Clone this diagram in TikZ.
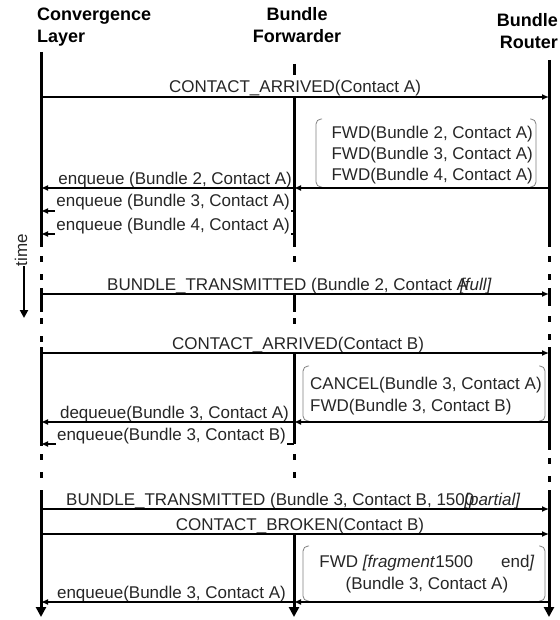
\documentclass[tikz,border=0pt]{standalone}
\usepackage{fontspec}
\setmainfont{Liberation Sans}
\usetikzlibrary{arrows.meta}

\begin{document}
\begin{tikzpicture}[x=1pt, y=-1pt,
    every node/.style={font=\fontsize{17}{21}\selectfont, text=black!85, inner sep=0pt},
    hdr/.style={font=\fontsize{18}{21}\selectfont\bfseries, text=black},
    life/.style={line width=3pt},
    lifedash/.style={line width=3pt, dash pattern=on 6pt off 12pt},
    lifeend/.style={line width=3pt, -{Triangle[length=10pt,width=10pt]}},
    msg/.style={line width=1.3pt, -{Latex[length=7pt,width=6pt]}},
    brk/.style={black!50, line width=0.8pt, rounded corners=5pt},
    cover/.style={fill=white, inner sep=1pt}]
    \useasboundingbox (0,0) rectangle (559,620);

    % ---------------- LIFELINES ----------------
    \coordinate (CL) at (41,0);
    \coordinate (BF) at (294,0);
    \coordinate (BR) at (549,0);

    \node[hdr, anchor=base west] (clA) at (37,21) {Convergence};
    \node[hdr, anchor=base west] (clB) at (37,43) {Layer};
    \node[hdr, anchor=base] (bfA) at (297,21) {Bundle};
    \node[hdr, anchor=base] (bfB) at (297,43) {Forwarder};
    \node[hdr, anchor=base east] (brA) at (558,27) {Bundle};
    \node[hdr, anchor=base east] (brB) at (558,49) {Router};

    \draw[life] (CL |- 0,52) -- (CL |- 0,247);
    \draw[lifedash] (CL |- 0,256) -- (CL |- 0,282);
    \draw[life] (CL |- 0,288) -- (CL |- 0,312);
    \draw[lifedash] (CL |- 0,318) -- (CL |- 0,342);
    \draw[life] (CL |- 0,347) -- (CL |- 0,446);
    \draw[lifedash] (CL |- 0,454) -- (CL |- 0,485);
    \draw[lifeend] (CL |- 0,490) -- (CL |- 0,617);

    \draw[life] (BF |- 0,64) -- (BF |- 0,75);
    \draw[life] (BF |- 0,97) -- (BF |- 0,247);
    \draw[lifedash] (BF |- 0,256) -- (BF |- 0,268);
    \draw[life] (BF |- 0,294) -- (BF |- 0,312);
    \draw[lifedash] (BF |- 0,318) -- (BF |- 0,330);
    \draw[life] (BF |- 0,353) -- (BF |- 0,444);
    \draw[lifedash] (BF |- 0,454) -- (BF |- 0,485);
    \draw[lifeend] (BF |- 0,534) -- (BF |- 0,617);

    \draw[life] (BR |- 0,60) -- (BR |- 0,247);
    \draw[lifedash] (BR |- 0,256) -- (BR |- 0,282);
    \draw[life] (BR |- 0,288) -- (BR |- 0,306);
    \draw[lifedash] (BR |- 0,316) -- (BR |- 0,342);
    \draw[life] (BR |- 0,347) -- (BR |- 0,450);
    \draw[lifedash] (BR |- 0,458) -- (BR |- 0,485);
    \draw[lifeend] (BR |- 0,490) -- (BR |- 0,617);

    % time axis
    \node[rotate=90, anchor=base] (tm) at (27,250) {time};
    \coordinate (tmEnd) at (24,318);
    \draw[line width=2.4pt, -{Triangle[length=8pt,width=8pt]}] (tm.west -| tmEnd) -- (tmEnd);

    % ---------------- CONTACT A ----------------
    \node[anchor=base] (caA) at (295,93) {CONTACT\_ARRIVED(Contact A)};
    \draw[msg] (CL |- 0,97) -- (BR |- 0,97);

    \node[anchor=base east] (fwd2) at (533,139) {FWD(Bundle 2, Contact A)};
    \node[anchor=base east] (fwd3) at (533,160) {FWD(Bundle 3, Contact A)};
    \node[anchor=base east] (fwd4) at (533,181) {FWD(Bundle 4, Contact A)};
    \draw[brk] (322,119) -| (316,187) -- (322,187);
    \draw[brk] (530,119) -| (536,187) -- (530,187);
    \draw[msg] (BR |- 0,188) -- (BF |- 0,188);

    \node[anchor=base east] (enq2) at (292,185) {enqueue (Bundle 2, Contact A)};
    \draw[msg] (BF |- 0,188) -- (CL |- 0,188);
    \draw[msg] (BF |- 0,211) -- (CL |- 0,211);
    \node[cover, anchor=base east] (enq3) at (291,207) {enqueue (Bundle 3, Contact A)};
    \draw[msg] (BF |- 0,234) -- (CL |- 0,234);
    \node[cover, anchor=base east] (enq4) at (291,230) {enqueue (Bundle 4, Contact A)};

    \node[anchor=base west] (bt2) at (107,290) {BUNDLE\_TRANSMITTED (Bundle 2, Contact A\hspace{-8pt}\textit{[full]}};
    \draw[msg] (CL |- 0,294) -- (BR |- 0,294);

    % ---------------- CONTACT B ----------------
    \node[anchor=base] (caB) at (298,349) {CONTACT\_ARRIVED(Contact B)};
    \draw[msg] (CL |- 0,353) -- (BR |- 0,353);

    \node[anchor=base west] (cnl) at (310,389) {CANCEL(Bundle 3, Contact A)};
    \node[anchor=base west] (fwdB) at (310,411) {FWD(Bundle 3, Contact B)};
    \draw[brk] (309,366) -| (303,421) -- (309,421);
    \draw[brk] (539,366) -| (545,421) -- (539,421);
    \draw[msg] (BR |- 0,422) -- (BF |- 0,422);

    \node[anchor=base east] (deq) at (289,418) {dequeue(Bundle 3, Contact A)};
    \draw[msg] (BF |- 0,422) -- (CL |- 0,422);
    \draw[msg] (BF |- 0,444) -- (CL |- 0,444);
    \node[cover, anchor=base east] (enqB) at (287,440) {enqueue(Bundle 3, Contact B)};

    \node[anchor=base west] (bt3) at (66,505) {BUNDLE\_TRANSMITTED (Bundle 3, Contact B, 1500\hspace{-10pt}\textit{[partial]}};
    \draw[msg] (CL |- 0,509) -- (BR |- 0,509);

    \node[anchor=base] (cb) at (300,530) {CONTACT\_BROKEN(Contact B)};
    \draw[msg] (CL |- 0,534) -- (BR |- 0,534);

    % fragment
    \node[anchor=base] (frgA) at (427,567) {FWD \textit{[fragment\/}1500\hspace{28pt}end\textit{]}};
    \node[anchor=base] (frgB) at (427,589) {(Bundle 3, Contact A)};
    \draw[brk] (309,546) -| (303,601) -- (309,601);
    \draw[brk] (539,546) -| (545,601) -- (539,601);
    \draw[msg] (BR |- 0,602) -- (BF |- 0,602);

    \node[anchor=base east] (enqF) at (286,598) {enqueue(Bundle 3, Contact A)};
    \draw[msg] (BF |- 0,602) -- (CL |- 0,602);
\end{tikzpicture}
\end{document}
